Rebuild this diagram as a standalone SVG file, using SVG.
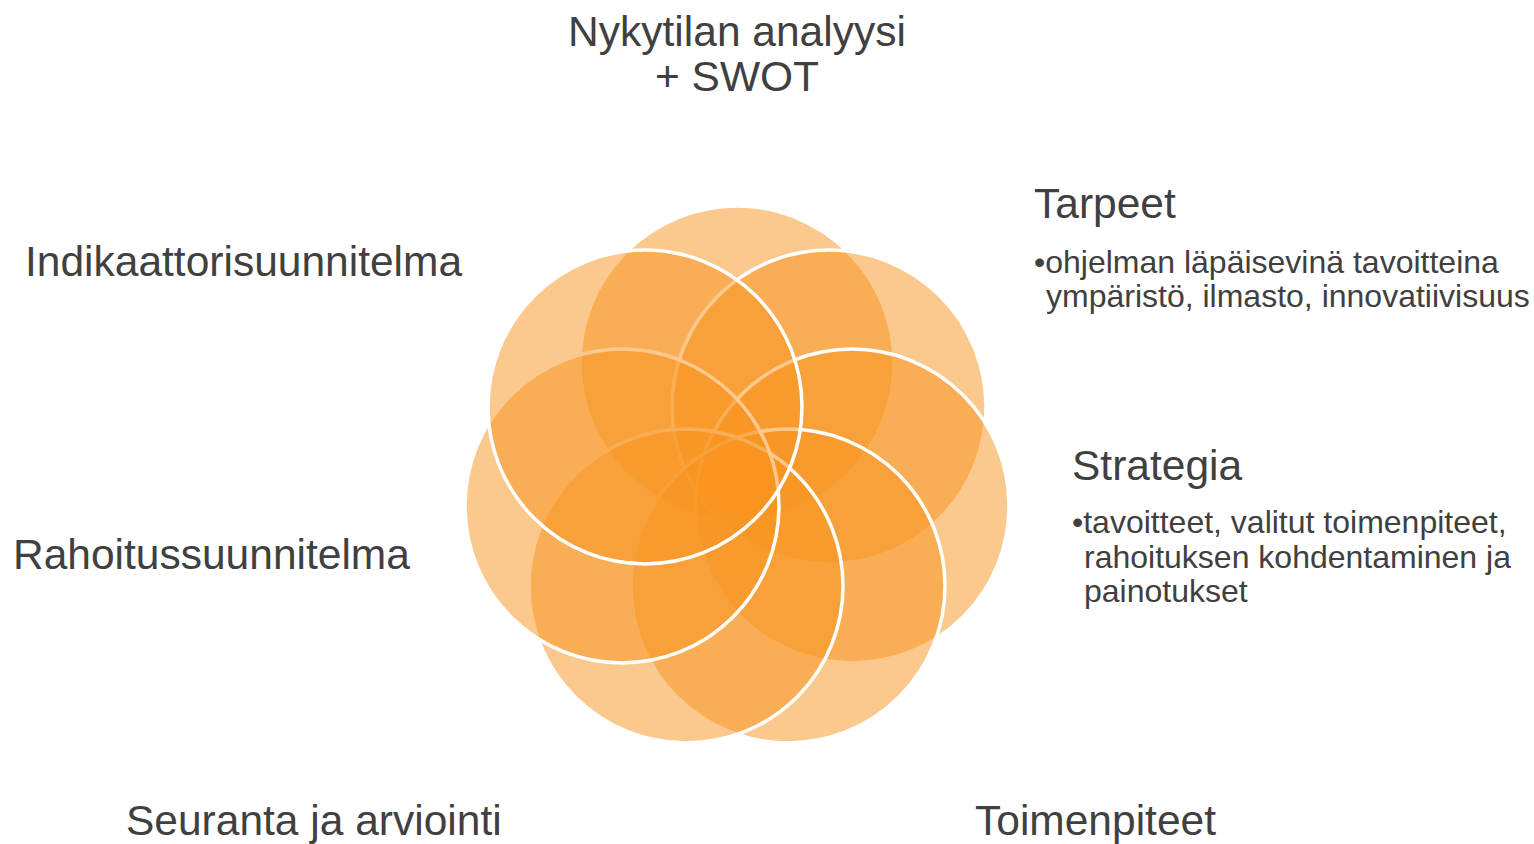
<svg xmlns="http://www.w3.org/2000/svg" width="1534" height="844" viewBox="0 0 1534 844">
<style>
.c{fill:#F7941D;fill-opacity:0.5;stroke:#FFFFFF;stroke-width:3.5}
.h{font-family:"Liberation Sans",Arial,sans-serif;font-size:42.5px;fill:#404040}
.b{font-family:"Liberation Sans",Arial,sans-serif;font-size:32px;fill:#404040}
</style>
<rect width="1534" height="844" fill="#FFFFFF"/>
<g id="flower">
<circle id="c1" class="c" cx="737" cy="363" r="157"/>
<circle id="c2" class="c" cx="829" cy="407" r="157"/>
<circle id="c3" class="c" cx="852" cy="506" r="157"/>
<circle id="c4" class="c" cx="788" cy="586" r="157"/>
<circle id="c5" class="c" cx="686" cy="586" r="157"/>
<circle id="c6" class="c" cx="622" cy="506" r="157"/>
<circle id="c7" class="c" cx="645" cy="407" r="157"/>
</g>
<g id="connectors"></g>
<g id="n-nykytila"><text class="h" x="737" y="46" text-anchor="middle">Nykytilan analyysi</text><text class="h" x="737" y="91" text-anchor="middle">+ SWOT</text></g>
<g id="n-tarpeet"><text class="h" x="1034" y="218">Tarpeet</text><text class="b" x="1034" y="273">•ohjelman läpäisevinä tavoitteina</text><text class="b" x="1046" y="307">ympäristö, ilmasto, innovatiivisuus</text></g>
<g id="n-strategia"><text class="h" x="1072" y="480">Strategia</text><text class="b" x="1072" y="533">•tavoitteet, valitut toimenpiteet,</text><text class="b" x="1084" y="568">rahoituksen kohdentaminen ja</text><text class="b" x="1084" y="602">painotukset</text></g>
<g id="n-toimenpiteet"><text class="h" x="975" y="835">Toimenpiteet</text></g>
<g id="n-seuranta"><text class="h" x="126" y="835">Seuranta ja arviointi</text></g>
<g id="n-rahoitus"><text class="h" x="13" y="569">Rahoitussuunnitelma</text></g>
<g id="n-indikaattori"><text class="h" x="25" y="276">Indikaattorisuunnitelma</text></g>
</svg>
